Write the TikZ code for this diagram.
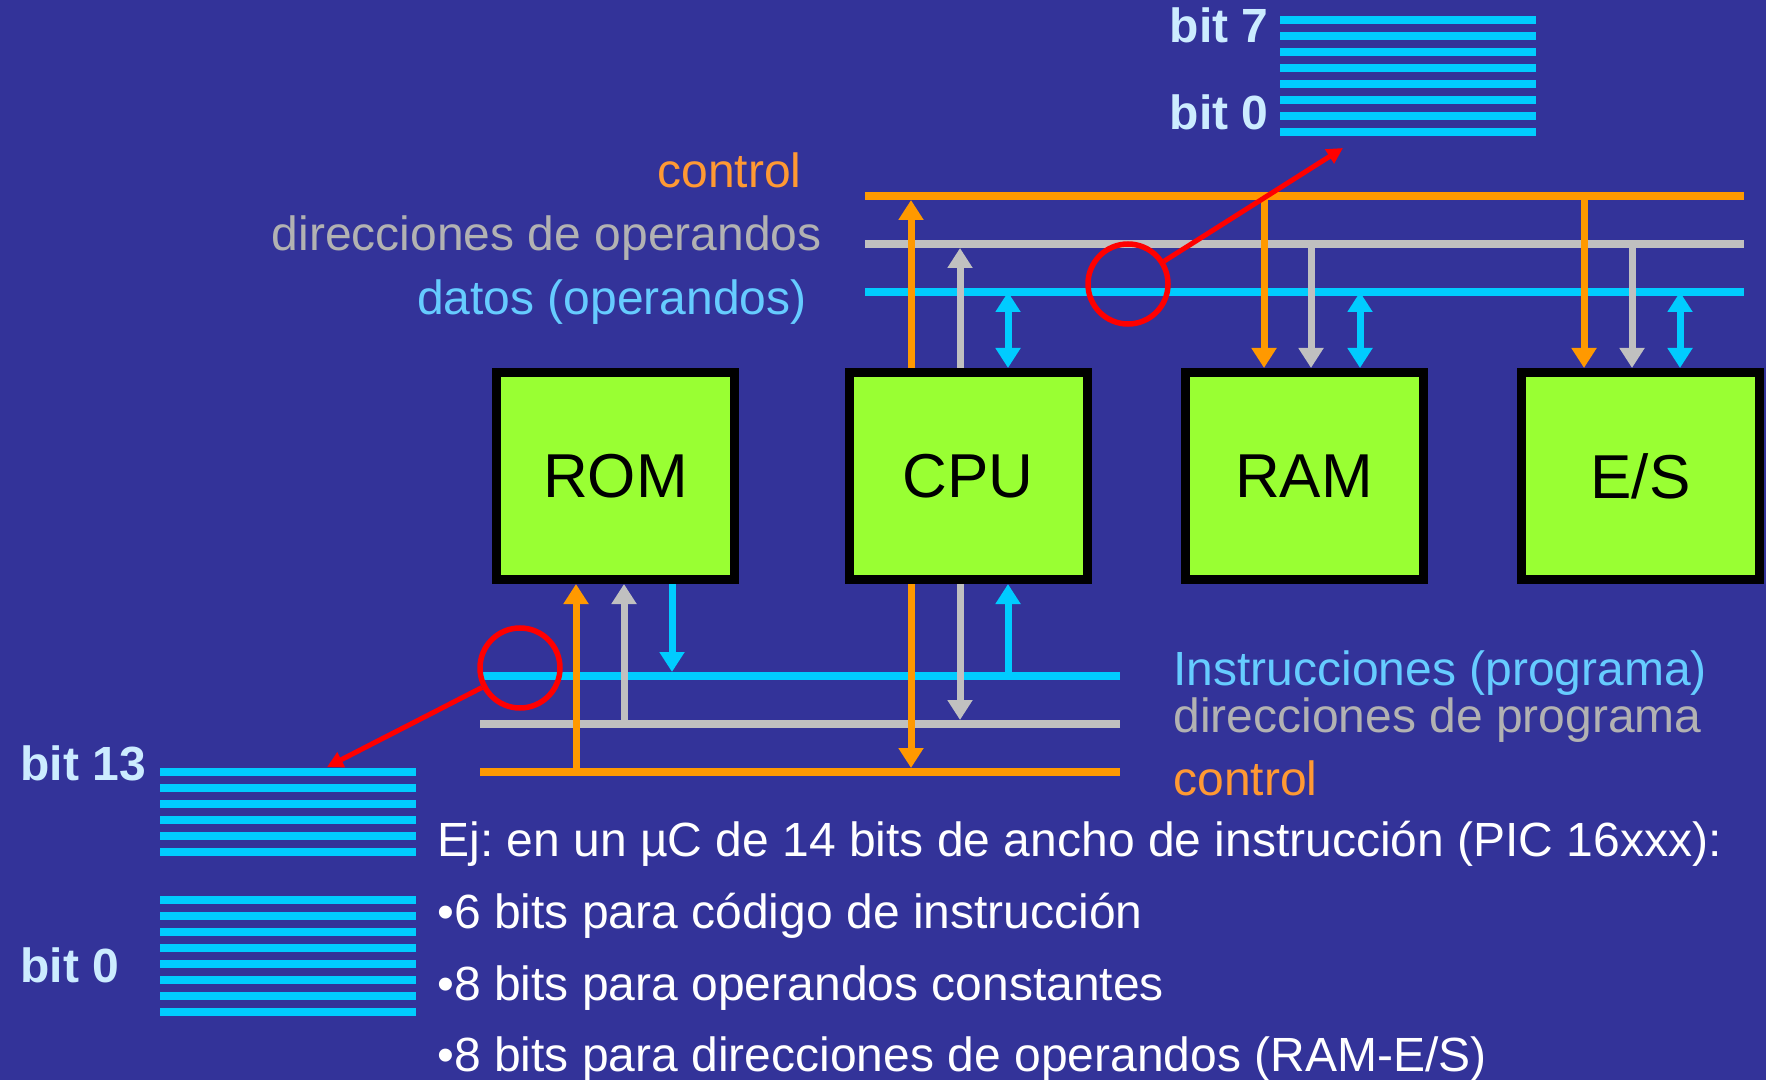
\documentclass[tikz,border=0pt]{standalone}
\usepackage{fontspec}
\setmainfont{Liberation Sans}
\frenchspacing
\usetikzlibrary{arrows.meta,positioning,calc}
\definecolor{fondo}{RGB}{51,51,153}
\definecolor{naranja}{RGB}{255,153,0}
\definecolor{gris}{RGB}{192,192,192}
\definecolor{celeste}{RGB}{0,204,255}
\definecolor{verde}{RGB}{153,255,51}
\definecolor{txtnaranja}{RGB}{255,153,51}
\definecolor{txtgris}{RGB}{178,178,178}
\definecolor{txtceleste}{RGB}{102,204,255}
\definecolor{txtbit}{RGB}{204,236,255}
\tikzset{
    %Define standard arrow tip
    >={Triangle[width=12pt,length=10pt]},
    %Define style for blocks
    blocknode/.style={
             rectangle,
             draw=black, line width=4.5pt,
             fill=verde,
             minimum width=119pt, minimum height=103.5pt,
             font=\fontsize{31}{31}\selectfont},
    %Define style for texts
    labelnode/.style={
             inner sep=0pt,
             font=\fontsize{24}{28}\selectfont},
    bitnode/.style={
             inner sep=0pt,
             text=txtbit,
             font=\fontsize{24}{28}\selectfont\bfseries},
    marknode/.style={
             circle,
             draw=red, line width=2.75pt,
             minimum size=40pt, inner sep=0pt},
    % Define bus styles
    ctlbus/.style={naranja, line width=4pt},
    dirbus/.style={gris, line width=4pt},
    datbus/.style={celeste, line width=4pt},
    bitline/.style={celeste, line width=4pt},
    % Define arrow style
    ctlarrow/.style={
            naranja,
            line width=3.5pt},
    dirarrow/.style={
            gris,
            line width=3.5pt},
    datarrow/.style={
            celeste,
            line width=3.5pt},
    markarrow/.style={
            -{Triangle[width=8pt,length=8pt]},
            red,
            line width=2.5pt}
}
\begin{document}
\begin{tikzpicture}[x=0.5pt, y=-0.5pt]
    \fill[fondo] (0,0) rectangle (1766,1080);
    \useasboundingbox (0,0) rectangle (1766,1080);

    % buses de operandos
    \coordinate (ctlT) at (865,196);  \coordinate (ctlTe) at (1744,196);
    \coordinate (dirT) at (865,244);  \coordinate (dirTe) at (1744,244);
    \coordinate (datT) at (865,292);  \coordinate (datTe) at (1744,292);
    % buses de programa
    \coordinate (insB) at (480,676);  \coordinate (insBe) at (1120,676);
    \coordinate (dirB) at (480,724);  \coordinate (dirBe) at (1120,724);
    \coordinate (ctlB) at (480,772);  \coordinate (ctlBe) at (1120,772);
    \draw[ctlbus] (ctlT) -- (ctlTe);
    \draw[dirbus] (dirT) -- (dirTe);
    \draw[datbus] (datT) -- (datTe);
    \draw[datbus] (insB) -- (insBe);
    \draw[dirbus] (dirB) -- (dirBe);
    \draw[ctlbus] (ctlB) -- (ctlBe);

    % blocks
    \node[blocknode] (rom) at (615.5,476) {ROM};
    \node[blocknode] (cpu) at (968,476) {CPU};
    \node[blocknode] (ram) at (1304,476) {RAM};
    \node[blocknode] (es) at (1640.5,476) {E/S};

    % columns of the arrows
    \foreach \nm/\x in {cpuctl/911, cpudir/960, cpudat/1008,
                        ramctl/1264, ramdir/1311, ramdat/1360,
                        esctl/1584, esdir/1632, esdat/1680,
                        romctl/576, romdir/624, romins/672}
        \coordinate (\nm) at (\x,0);

    % arrows to the operand buses
    \draw[ctlarrow,->,shorten >=2pt] (cpuctl |- cpu.north) -- (cpuctl |- ctlT);
    \draw[dirarrow,->,shorten >=2pt] (cpudir |- cpu.north) -- (cpudir |- dirT);
    \draw[datarrow,<->] (cpudat |- cpu.north) -- (cpudat |- datT);
    \foreach \blk in {ram,es} {
        \draw[ctlarrow,->] (\blk ctl |- ctlT) -- (\blk ctl |- \blk.north);
        \draw[dirarrow,->] (\blk dir |- dirT) -- (\blk dir |- \blk.north);
        \draw[datarrow,<->] (\blk dat |- datT) -- (\blk dat |- \blk.north);
    }

    % arrows to the program buses
    \draw[ctlarrow,->] (romctl |- ctlB) -- (romctl |- rom.south);
    \draw[dirarrow,->] (romdir |- dirB) -- (romdir |- rom.south);
    \draw[datarrow,->,shorten >=2pt] (romins |- rom.south) -- (romins |- insB);
    \draw[ctlarrow,->,shorten >=2pt] (cpuctl |- cpu.south) -- (cpuctl |- ctlB);
    \draw[dirarrow,->,shorten >=2pt] (cpudir |- cpu.south) -- (cpudir |- dirB);
    \draw[datarrow,->] (cpudat |- insB) -- (cpudat |- cpu.south);

    % bus labels
    \node[labelnode, text=txtnaranja, anchor=base east] (lctlT) at (802,188) {control};
    \node[labelnode, text=txtgris, anchor=base east] (ldirT) at (822,251) {direcciones de operandos};
    \node[labelnode, text=txtceleste, anchor=base east] (ldatT) at (807,315) {datos (operandos)};
    \node[labelnode, text=txtceleste, anchor=base west] (linsB) at (1173,685) {Instrucciones (programa)};
    \node[labelnode, text=txtgris, anchor=base west] (ldirB) at (1173,732) {direcciones de programa};
    \node[labelnode, text=txtnaranja, anchor=base west] (lctlB) at (1173,795) {control};

    % registers
    \coordinate (regop) at (1280,20);
    \coordinate (reginsA) at (160,772);
    \coordinate (reginsB) at (160,900);
    \foreach \k in {0,...,7}
        \draw[bitline] ($(regop)+(0,16*\k)$) -- ++(256,0);
    \foreach \k in {0,...,5}
        \draw[bitline] ($(reginsA)+(0,16*\k)$) -- ++(256,0);
    \foreach \k in {0,...,7}
        \draw[bitline] ($(reginsB)+(0,16*\k)$) -- ++(256,0);
    \node[bitnode, anchor=base east] (bitsiete) at (1269,43) {bit 7};
    \node[bitnode, anchor=base east] (bitceroT) at (1269,130) {bit 0};
    \node[bitnode, anchor=base west] (bittrece) at (20,780) {bit 13};
    \node[bitnode, anchor=base west] (bitceroB) at (20,982) {bit 0};

    % marks
    \node[marknode] (markdat) at (1128,284) {};
    \node[marknode] (markins) at (520,668) {};
    \coordinate (tgtop) at (1343,148);
    \coordinate (tgins) at (327,767);
    \draw[markarrow] (markdat) -- (tgtop);
    \draw[markarrow] (markins) -- (tgins);

    % example text
    \node[labelnode, text=white, anchor=base west] (ej) at (437,856) {Ej: en un µC de 14 bits de ancho de instrucción (PIC 16xxx):};
    \node[labelnode, text=white, anchor=base west] (ejA) at (437,928) {•6 bits para código de instrucción};
    \node[labelnode, text=white, anchor=base west] (ejB) at (437,1000) {•8 bits para operandos constantes};
    \node[labelnode, text=white, anchor=base west] (ejC) at (437,1071) {•8 bits para direcciones de operandos (RAM-E/S)};
\end{tikzpicture}
\end{document}
